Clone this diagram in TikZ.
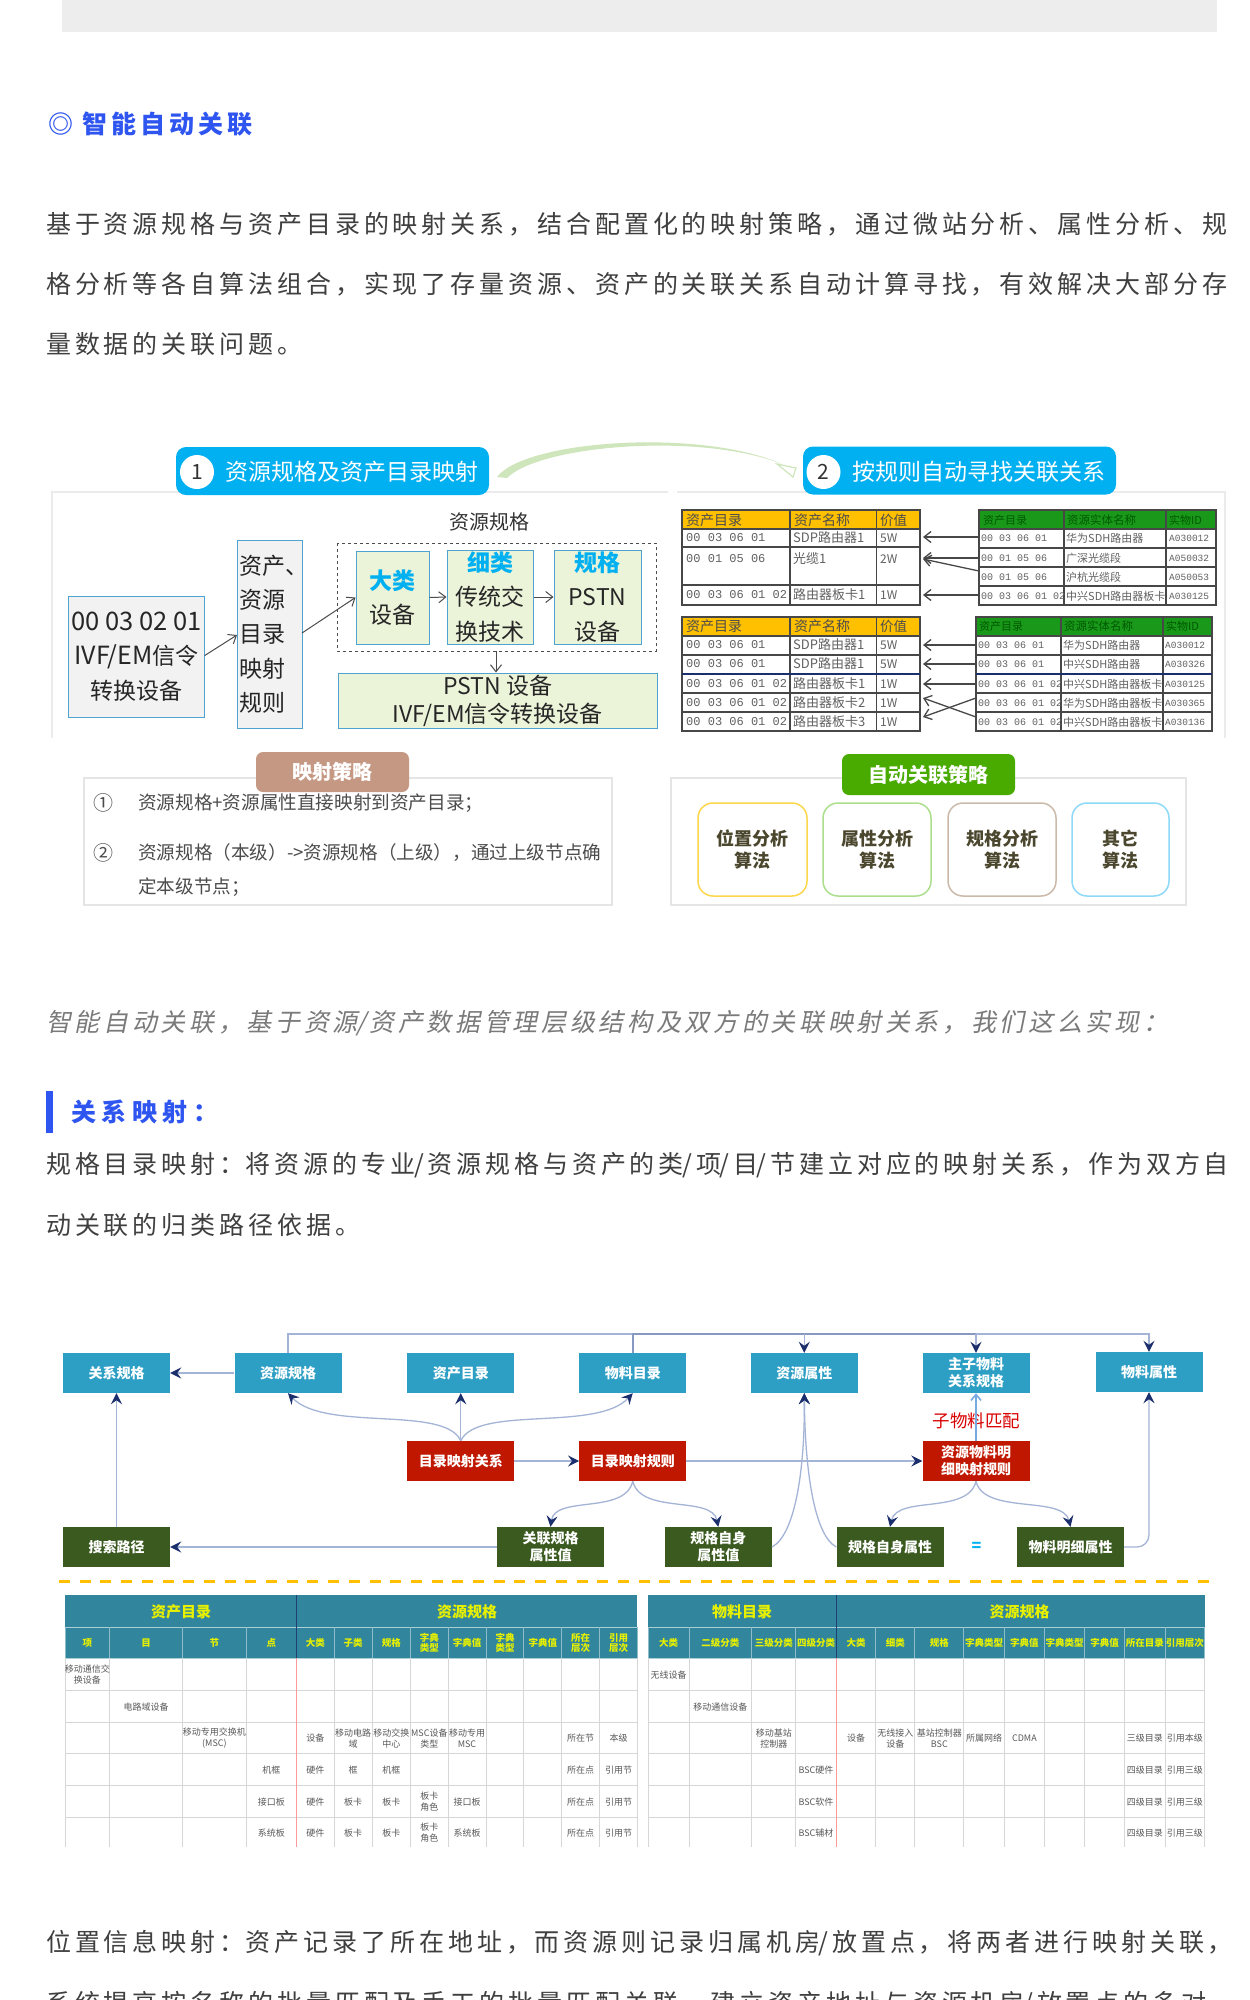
\documentclass[tikz,border=0pt]{standalone}
\usepackage{fontspec}
\setmainfont{Noto Sans CJK SC}
\setmonofont{Liberation Mono}
\newfontfamily\spacedfont[LetterSpace=15.6]{Noto Sans CJK SC}
\newfontfamily\tallfont[LetterSpace=22]{Noto Sans CJK SC}
\newfontfamily\slantfont[LetterSpace=14.6,FakeSlant=0.2]{Noto Sans CJK SC}
\usetikzlibrary{arrows.meta}
\newcommand{\thinslash}{\hspace{-1.5pt}/}
\newcommand{\thincolon}{：\hspace{1.4pt}}
\definecolor{bodygray}{HTML}{3F3F3F}
\definecolor{blueink}{HTML}{2F55F0}
\definecolor{badgeblue}{HTML}{00B0F0}
\definecolor{boxedge}{HTML}{4FA3D1}
\definecolor{leaf}{HTML}{EBF3D9}
\definecolor{sprout}{HTML}{CFE6BC}
\definecolor{teal}{HTML}{2E9FC4}
\definecolor{crimson}{HTML}{C01800}
\definecolor{moss}{HTML}{3A5A20}
\definecolor{navy}{HTML}{1A2F6B}
\definecolor{linkblue}{HTML}{A3B4D6}
\definecolor{amber}{HTML}{FFC000}
\definecolor{tablehead}{HTML}{31859C}
\definecolor{tabletext}{HTML}{E6F000}
\tikzset{
	bodyline/.style={anchor=west, inner sep=0, text=bodygray, font=\fontsize{25}{30}\selectfont\spacedfont},
	badge/.style={fill=badgeblue, rounded corners=10pt, minimum width=#1, minimum height=48, inner sep=0, text=white, font=\fontsize{23}{28}\selectfont},
	badgenum/.style={circle, fill=white, minimum size=34, inner sep=0, text=black!80, font=\fontsize{21}{26}\selectfont},
	graybox/.style={draw=boxedge, line width=1pt, fill=black!5, inner sep=0, align=center, text=black!85, font=\fontsize{23}{34.5}\selectfont},
	leafbox/.style={draw=boxedge, line width=1pt, fill=leaf, inner sep=0, align=center, text=black!85, font=\fontsize{23}{34.5}\selectfont},
	darrow/.style={draw=black!70, line width=1pt, -{Straight Barb[length=7pt,width=11pt]}},
	framel/.style={draw=black!8, line width=1.5pt},
	tabline/.style={draw=black!72, line width=1.2pt},
	tabtext/.style={anchor=west, inner sep=0, text=black!62, font=\fontsize{#1}{#1}\selectfont},
	tabcode/.style={anchor=west, inner sep=0, text=black!62, font=\fontsize{#1}{#1}\selectfont\ttfamily},
	ruletext/.style={anchor=west, inner sep=0, text=black!70, font=\fontsize{18.6}{22}\selectfont},
	algobox/.style={draw=#1, line width=1.5pt, rounded corners=15pt, fill=white, minimum height=93, inner sep=0, align=center, text=black!62!olive, font=\fontsize{18}{22}\selectfont\bfseries},
	stepbox/.style={fill=#1, minimum width=107, minimum height=40, inner sep=0, align=center, font=\fontsize{14}{17}\selectfont\bfseries},
	link/.style={draw=linkblue, line width=1.3pt, -{Stealth[length=11pt,width=11pt,inset=4pt,color=navy]}},
	busline/.style={draw=linkblue!80!navy, line width=1.5pt},
	headcell/.style={inner sep=0, align=center, text=tabletext, font=\fontsize{#1}{#1}\selectfont\bfseries},
	datacell/.style={inner sep=0, align=center, text=black!65, font=\fontsize{9}{11}\selectfont},
	grid/.style={draw=black!16, line width=1pt},
}

\begin{document}
\begin{tikzpicture}[x=1pt,y=-1pt]
			%%%%% PAGE %%%%%
			\useasboundingbox (0,0) rectangle (1250,2000);
			\clip (0,0) rectangle (1250,2000);
			\fill[white] (0,0) rectangle (1250,2000);
			\fill[black!7] (62,0) rectangle (1217,32);

			\node[anchor=west, inner sep=0, text=blueink, font=\fontsize{25}{30}\selectfont\spacedfont\bfseries] (headauto) at (48,124) {◎ 智能自动关联};
			\node[bodyline] (introa) at (46,224) {基于资源规格与资产目录的映射关系，结合配置化的映射策略，通过微站分析、属性分析、规};
			\node[bodyline] (introb) at (46,284) {格分析等各自算法组合，实现了存量资源、资产的关联关系自动计算寻找，有效解决大部分存};
			\node[bodyline] (introc) at (46,344) {量数据的关联问题。};

			%%%%% STEP ONE %%%%%
			\draw[framel] (52,738) -- (52,492) -- (668,492);
			\draw[framel] (677,492) -- (1225,492) -- (1225,738);

			\fill[sprout] (497,477) .. controls (525,440) and (700,428) .. (782,464) .. controls (700,432) and (540,445) .. (507,478) -- cycle;
			\draw[draw=sprout, fill=white, line width=1.2pt] (777,464) -- (796,468) -- (793,477) -- cycle;

			\node[badge=313] (badgeone) at (332.5,471) {};
			\node[badgenum] (numone) at (197,472) {1};
			\node[inner sep=0, text=white, font=\fontsize{23}{28}\selectfont] (titleone) at (352,472) {资源规格及资产目录映射};
			\node[badge=313] (badgetwo) at (959.5,470.5) {};
			\node[badgenum] (numtwo) at (823.5,472) {2};
			\node[inner sep=0, text=white, font=\fontsize{23}{28}\selectfont] (titletwo) at (979,472) {按规则自动寻找关联关系};

			\node[inner sep=0, text=black!80, font=\fontsize{20}{24}\selectfont] (specname) at (489,522) {资源规格};
			\draw[draw=black!70, line width=1pt, dashed] (337,543) rectangle (656,651);
			\coordinate (dashbot) at (496,651);

			\node[graybox, minimum width=135.5, minimum height=121] (oldspec) at (136.5,656.5) {{\fontsize{25.5}{34.5}\selectfont 00 03 02 01}\\{\fontsize{25}{34.5}\selectfont IVF/EM}信令\\转换设备};
			\node[graybox, minimum width=65, minimum height=188, text width=61, align=left] (maprule) at (269.5,634) {资产、\\[-0.2pt]资源\\[-0.2pt]目录\\[-0.2pt]映射\\[-0.2pt]规则};
			\node[leafbox, minimum width=73, minimum height=93] (bigclass) at (392.5,597.5) {{\color{badgeblue}\bfseries 大类}\\设备};
			\node[leafbox, minimum width=86, minimum height=94] (fineclass) at (490,597) {{\color{badgeblue}\bfseries 细类}\\传统交\\换技术};
			\node[leafbox, minimum width=87, minimum height=94] (specclass) at (597.5,597) {{\color{badgeblue}\bfseries 规格}\\PSTN\\设备};
			\node[leafbox, minimum width=319.5, minimum height=55, font=\fontsize{23}{28}\selectfont] (pstnbox) at (497.75,700.5) {PSTN 设备\\IVF/EM信令转换设备};

			\draw[darrow] (oldspec.east) ++(0,-1) -- (237,635);
			\draw[darrow] (302,633) -- (bigclass.west);
			\draw[darrow] (bigclass.east) -- (fineclass.west);
			\draw[darrow] (fineclass.east) -- (specclass.west);
			\draw[darrow] (dashbot) -- (dashbot |- pstnbox.north);

			%%%%% STEP TWO TABLES %%%%%
			\fill[amber] (682,510) rectangle (920,529);
			\fill[amber] (682,617) rectangle (920,636);
			\fill[green!55!black!90] (979,510) rectangle (1216,529);
			\fill[green!55!black!90] (976,617) rectangle (1212,636);

			\draw[tabline] (682,510) rectangle (920,605);
			\draw[tabline] (979,510) rectangle (1216,605);
			\draw[tabline] (682,617) rectangle (920,731);
			\draw[tabline] (976,617) rectangle (1212,731);
			\foreach \y in {529,547,585} \draw[tabline] (682,\y) -- (920,\y);
			\foreach \x in {790,876.5} \draw[tabline] (\x,510) -- (\x,605);
			\foreach \y in {529,548,567,586} \draw[tabline] (979,\y) -- (1216,\y);
			\foreach \x in {1064,1166} \draw[tabline] (\x,510) -- (\x,605);
			\foreach \y in {636,655,693,712} \draw[tabline] (682,\y) -- (920,\y);
			\foreach \x in {790,876.5} \draw[tabline] (\x,617) -- (\x,731);
			\foreach \y in {636,655,693,712} \draw[tabline] (976,\y) -- (1212,\y);
			\foreach \x in {1061,1163} \draw[tabline] (\x,617) -- (\x,731);
			\draw[line width=1.5pt, color=navy] (682,674) -- (920,674);
			\draw[line width=1.5pt, color=navy] (976,674) -- (1212,674);

			\foreach \y/\n in {520/a,626/b} {
				\node[tabtext=14, text=black!70] (orhead\n) at (686,\y) {资产目录};
				\node[tabtext=14, text=black!70] (orname\n) at (794,\y) {资产名称};
				\node[tabtext=13.5, text=black!70] (orval\n) at (880,\y) {价值};
			}
			\foreach \x/\X/\W/\y/\n in {983/1067/1169/520/a,979/1064/1166/626/b} {
				\node[tabtext=11, text=green!35!black] (grhead\n) at (\x,\y) {资产目录};
				\node[tabtext=11.5, text=green!35!black] (grname\n) at (\X,\y) {资源实体名称};
				\node[tabtext=11, text=green!35!black] (grval\n) at (\W,\y) {实物ID};
			}
			\foreach \y/\a/\b/\c [count=\i] in {538/00 03 06 01/SDP路由器1/5W,559/00 01 05 06/光缆1/2W,595/00 03 06 01 02/路由器板卡1/1W,645/00 03 06 01/SDP路由器1/5W,664/00 03 06 01/SDP路由器1/5W,684/00 03 06 01 02/路由器板卡1/1W,703/00 03 06 01 02/路由器板卡2/1W,722/00 03 06 01 02/路由器板卡3/1W} {
				\node[tabcode=12] (lcode\i) at (686,\y) {\a};
				\node[tabtext=13] (lname\i) at (793,\y) {\b};
				\node[tabtext=12] (lval\i) at (880,\y) {\c};
			}
			\foreach \y/\a/\b/\c [count=\i] in {538/00 03 06 01/华为SDH路由器/A030012,558/00 01 05 06/广深光缆段/A050032,577/00 01 05 06/沪杭光缆段/A050053,596/00 03 06 01 02/中兴SDH路由器板卡/A030125} {
				\node[tabcode=10] (rcode\i) at (981,\y) {\a};
				\node[tabtext=11] (rname\i) at (1066,\y) {\b};
				\node[tabcode=9.5] (rval\i) at (1169,\y) {\c};
			}
			\foreach \y/\a/\b/\c [count=\i] in {645/00 03 06 01/华为SDH路由器/A030012,664/00 03 06 01/中兴SDH路由器/A030326,684/00 03 06 01 02/中兴SDH路由器板卡/A030125,703/00 03 06 01 02/华为SDH路由器板卡/A030365,722/00 03 06 01 02/中兴SDH路由器板卡/A030136} {
				\node[tabcode=10] (scode\i) at (978,\y) {\a};
				\node[tabtext=11] (sname\i) at (1063,\y) {\b};
				\node[tabcode=9.5] (sval\i) at (1165,\y) {\c};
			}

			\foreach \n/\y/\Y in {a/537/537,b/558/558,c/571/559,d/595/595} {
				\coordinate (fromrow\n) at (979,\y);
				\coordinate (torow\n) at (923,\Y);
				\draw[draw=black!72, line width=1.3pt, -{Straight Barb[length=7pt,width=11pt]}] (fromrow\n) -- (torow\n);
			}
			\foreach \n/\y/\Y in {e/645/645,f/664/664,g/684/684,h/698/717,i/717/698} {
				\coordinate (fromrow\n) at (976,\y);
				\coordinate (torow\n) at (923,\Y);
				\draw[draw=black!72, line width=1.3pt, -{Straight Barb[length=7pt,width=11pt]}] (fromrow\n) -- (torow\n);
			}

			%%%%% STRATEGY PANELS %%%%%
			\draw[draw=black!10, line width=1.5pt] (84,778) rectangle (612,905);
			\draw[draw=black!10, line width=1.5pt] (671,778) rectangle (1186,905);
			\node[fill=brown!45!pink!70!gray, rounded corners=7pt, minimum width=153, minimum height=40, inner sep=0, text=white, font=\fontsize{20}{24}\selectfont\bfseries] (mapstrategy) at (332.5,772) {映射策略};
			\node[fill=green!40!olive!95!black, rounded corners=7pt, minimum width=173, minimum height=41, inner sep=0, text=white, font=\fontsize{20}{24}\selectfont\bfseries] (autostrategy) at (928.5,774.5) {自动关联策略};
			\node[inner sep=0, text=black!70, font=\fontsize{20}{24}\selectfont] (markone) at (103,803) {①};
			\node[inner sep=0, text=black!70, font=\fontsize{20}{24}\selectfont] (marktwo) at (103,853) {②};
			\node[ruletext] (ruleone) at (138,803) {资源规格+资源属性直接映射到资产目录；};
			\node[ruletext] (ruletwo) at (138,853) {资源规格（本级）->资源规格（上级），通过上级节点确};
			\node[ruletext] (rulethree) at (138,887) {定本级节点；};
			\node[algobox={yellow!60!orange!70}, minimum width=109] (algoa) at (752.5,849.5) {位置分析\\算法};
			\node[algobox={green!45!olive!45}, minimum width=108] (algob) at (877,849.5) {属性分析\\算法};
			\node[algobox={black!35!brown!40}, minimum width=108] (algoc) at (1002,849.5) {规格分析\\算法};
			\node[algobox={cyan!45}, minimum width=97] (algod) at (1120.5,849.5) {其它\\算法};

			%%%%% TEXT BLOCK %%%%%
			\node[anchor=west, inner sep=0, text=black!52, font=\fontsize{25}{30}\selectfont\slantfont] (italicline) at (46,1023) {智能自动关联，基于资源\thinslash 资产数据管理层级结构及双方的关联映射关系，我们这么实现：};
			\fill[blueink] (46,1091) rectangle (53,1133);
			\node[anchor=west, inner sep=0, text=blueink, font=\fontsize{25}{30}\selectfont\tallfont\bfseries] (headmap) at (71,1112) {关系映射：};
			\node[bodyline] (mapa) at (46,1165) {规格目录映射\thincolon 将资源的专业\thinslash 资源规格与资产的类\thinslash 项\thinslash 目\thinslash 节建立对应的映射关系，作为双方自};
			\node[bodyline] (mapb) at (46,1225) {动关联的归类路径依据。};

			%%%%% STEP BOXES %%%%%
			\node[stepbox=teal, text=white] (relspec) at (116.5,1373) {关系规格};
			\node[stepbox=teal, text=white] (resspec) at (288,1373) {资源规格};
			\node[stepbox=teal, text=white] (assetcat) at (460.75,1373) {资产目录};
			\node[stepbox=teal, text=white] (matcat) at (632.75,1373) {物料目录};
			\node[stepbox=teal, text=white] (resattr) at (804.25,1373) {资源属性};
			\node[stepbox=teal, text=white] (subrel) at (976,1373) {主子物料\\关系规格};
			\node[stepbox=teal, text=white] (matattr) at (1149,1372) {物料属性};
			\node[stepbox=crimson, text=white] (catrel) at (460.75,1461) {目录映射关系};
			\node[stepbox=crimson, text=white] (catrule) at (632.75,1461) {目录映射规则};
			\node[stepbox=crimson, text=white] (detailrule) at (976,1461) {资源物料明\\细映射规则};
			\node[stepbox=moss, text=white] (searchpath) at (116.5,1547) {搜索路径};
			\node[stepbox=moss, text=white] (linkval) at (550.5,1547) {关联规格\\属性值};
			\node[stepbox=moss, text=white] (selfval) at (718.25,1547) {规格自身\\属性值};
			\node[stepbox=moss, text=white] (selfattr) at (890,1547) {规格自身属性};
			\node[stepbox=moss, text=white] (matdetail) at (1070.5,1547) {物料明细属性};
			\node[inner sep=0, text=red!85!black, font=\fontsize{17.5}{20}\selectfont] (submatch) at (976.6,1421) {子物料匹配};
			\node[inner sep=0, text=badgeblue, font=\fontsize{16}{18}\selectfont\bfseries] (equalsign) at (976.6,1547) {=};

			\coordinate (busleft) at (resspec.north |- 0,1334);
			\coordinate (busmid) at (matcat.north |- 0,1334);
			\coordinate (busa) at (resattr.north |- 0,1334);
			\coordinate (busb) at (subrel.north |- 0,1334);
			\coordinate (busc) at (matattr.north |- 0,1334);
			\draw[link] (resspec.north) -- (busleft) -- (busc) -- (matattr.north);
			\draw[busline] (matcat.north) -- (busmid) -- (busb);
			\draw[link] (busa) -- (resattr.north);
			\draw[link] (busb) -- (subrel.north);

			\draw[link] (resspec.west) -- (relspec.east);
			\draw[link] (searchpath.north) -- (relspec.south);
			\draw[link] (linkval.west) -- (searchpath.east);
			\draw[link] (catrel.east) -- (catrule.west);
			\draw[link] (catrule.east) -- (detailrule.west);
			\draw[link] (catrel.north) -- (assetcat.south);
			\draw[link] (catrel.north) .. controls (445,1405) and (325,1432) .. (resspec.south);
			\draw[link] (catrel.north) .. controls (477,1405) and (597,1432) .. (matcat.south);
			\draw[link] (catrule.south) .. controls (625,1515) and (555,1495) .. (linkval.north);
			\draw[link] (catrule.south) .. controls (641,1515) and (712,1495) .. (selfval.north);
			\draw[link] (detailrule.south) .. controls (968,1515) and (897,1495) .. (selfattr.north);
			\draw[link] (detailrule.south) .. controls (984,1515) and (1063,1495) .. (matdetail.north);
			\draw[link] (selfval.east) .. controls (795,1535) and (805,1470) .. (resattr.south);
			\draw[link] (selfattr.west) .. controls (814,1535) and (805,1470) .. (resattr.south);
			\draw[link, rounded corners=12pt] (matdetail.east) -| (matattr.south);
			\draw[draw=cyan!60!blue!55, line width=1.6pt, -{Straight Barb[length=6pt,width=10pt]}] (detailrule.north) -- (subrel.south);

			\draw[color=amber, line width=3pt, dash pattern=on 11pt off 9.7pt] (59,1581) -- (1212,1581);

			%%%%% BOTTOM TABLES %%%%%
			\fill[tablehead] (65.3,1595) rectangle (637.4,1658);
			\fill[tablehead] (648.4,1595) rectangle (1204.5,1658);
			\foreach \y in {1627,1658} {
				\draw[draw=white!60!tablehead, line width=1pt] (65.3,\y) -- (637.4,\y);
				\draw[draw=white!60!tablehead, line width=1pt] (648.4,\y) -- (1204.5,\y);
			}
			\foreach \y in {1690,1722,1753,1785,1817} {
				\draw[grid] (65.3,\y) -- (637.4,\y);
				\draw[grid] (648.4,\y) -- (1204.5,\y);
			}
			\foreach \x in {65.3,109.3,182.8,246,334,372,410.5,448,486,523.8,561.7,599.5,637.4,648.4,689,751.7,795.8,875.7,914.8,963.8,1004.3,1044.5,1084.7,1124.5,1165,1204.5} {
				\draw[draw=white!45!tablehead, line width=.8pt] (\x,1627) -- (\x,1658);
				\draw[grid] (\x,1658) -- (\x,1847);
			}
			\foreach \x in {296.8,836.3} {
				\draw[draw=navy!80!tablehead, line width=1pt] (\x,1595) -- (\x,1658);
				\draw[draw=red!40, line width=1.2pt] (\x,1658) -- (\x,1847);
			}

			\foreach \x/\t [count=\i] in {181/资产目录,467/资源规格,742/物料目录,1019.6/资源规格} {
				\node[headcell=15] (grouphead\i) at (\x,1611.5) {\t};
			}
			\foreach \x/\t [count=\i] in {87.3/项,146/目,214.4/节,271.4/点,315.4/大类,353/子类,391.3/规格,429.3/{字典\\类型},467/字典值,505/{字典\\类型},542.8/字典值,580.6/{所在\\层次},618.5/{引用\\层次}} {
				\node[headcell=9.5] (colheada\i) at (\x,1643) {\t};
			}
			\foreach \x/\t [count=\i] in {668.7/大类,720.4/二级分类,773.8/三级分类,816/四级分类,856/大类,895.3/细类,939.3/规格,984/字典类型,1024.4/字典值,1064.6/字典类型,1104.6/字典值,1144.8/所在目录,1184.8/引用层次} {
				\node[headcell=9.5] (colheadb\i) at (\x,1643) {\t};
			}
			\foreach \x/\y/\t [count=\i] in {87.3/1675/{移动通信交\\换设备},146/1707/电路域设备,214.4/1738.5/{移动专用交换机\\(MSC)},315.4/1738.5/设备,353/1738.5/{移动电路\\域},391.3/1738.5/{移动交换\\中心},429.3/1738.5/{MSC设备\\类型},467/1738.5/{移动专用\\MSC},580.6/1738.5/所在节,618.5/1738.5/本级,271.4/1770/机框,315.4/1770/硬件,353/1770/框,391.3/1770/机框,580.6/1770/所在点,618.5/1770/引用节,271.4/1802/接口板,315.4/1802/硬件,353/1802/板卡,391.3/1802/板卡,429.3/1802/{板卡\\角色},467/1802/接口板,580.6/1802/所在点,618.5/1802/引用节,271.4/1833/系统板,315.4/1833/硬件,353/1833/板卡,391.3/1833/板卡,429.3/1833/{板卡\\角色},467/1833/系统板,580.6/1833/所在点,618.5/1833/引用节} {
				\node[datacell] (assetcell\i) at (\x,\y) {\t};
			}
			\foreach \x/\y/\t [count=\i] in {668.7/1675/无线设备,720.4/1707/移动通信设备,773.8/1738.5/{移动基站\\控制器},856/1738.5/设备,895.3/1738.5/{无线接入\\设备},939.3/1738.5/{基站控制器\\BSC},984/1738.5/所属网络,1024.4/1738.5/CDMA,1144.8/1738.5/三级目录,1184.8/1738.5/引用本级,816/1770/BSC硬件,1144.8/1770/四级目录,1184.8/1770/引用三级,816/1802/BSC软件,1144.8/1802/四级目录,1184.8/1802/引用三级,816/1833/BSC辅材,1144.8/1833/四级目录,1184.8/1833/引用三级} {
				\node[datacell] (matcell\i) at (\x,\y) {\t};
			}

			%%%%% LAST LINES %%%%%
			\node[bodyline] (locala) at (46,1943) {位置信息映射\thincolon 资产记录了所在地址，而资源则记录归属机房\thinslash 放置点，将两者进行映射关联，};
			\node[bodyline] (localb) at (46,2004) {系统提高按名称的批量匹配及手工的批量匹配关联，建立资产地址与资源机房\thinslash 放置点的多对};
\end{tikzpicture}
\end{document}
